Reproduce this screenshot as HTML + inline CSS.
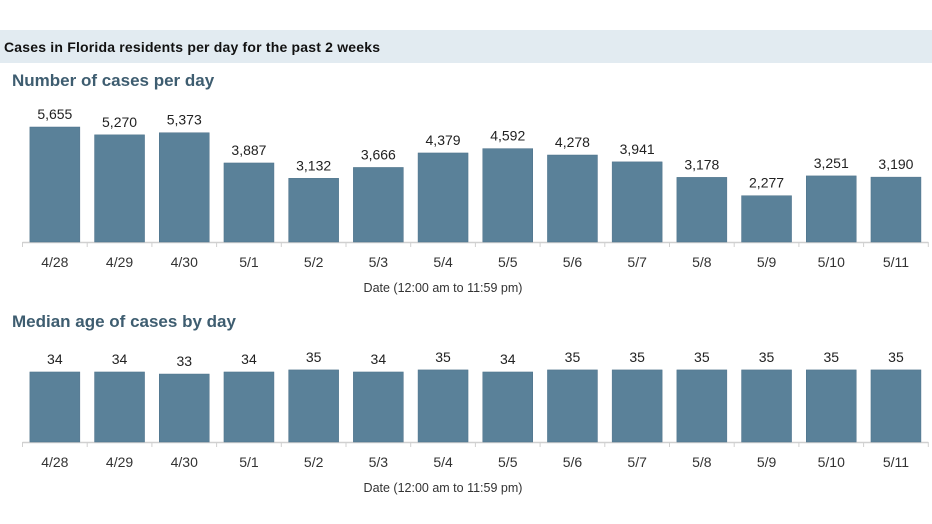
<!DOCTYPE html>
<html><head><meta charset="utf-8"><style>
body{margin:0;width:932px;height:524px;background:#fff;font-family:"Liberation Sans",sans-serif;overflow:hidden}
svg{display:block}
</style></head><body>
<svg id="c" width="932" height="524">
<rect x="0" y="30" width="932" height="33" fill="#e2ebf1"/>
<text x="4" y="52" font-size="14" font-weight="bold" fill="#111" textLength="376">Cases in Florida residents per day for the past 2 weeks</text>
<text x="12" y="86" font-size="17" font-weight="bold" fill="#3e5d70">Number of cases per day</text>
<text x="12" y="327" font-size="17" font-weight="bold" fill="#3e5d70">Median age of cases by day</text>
<g id="g1"></g><g id="g2"></g>
</svg>
<script>
const categories=["4/28","4/29","4/30","5/1","5/2","5/3","5/4","5/5","5/6","5/7","5/8","5/9","5/10","5/11"];
const cases=[5655,5270,5373,3887,3132,3666,4379,4592,4278,3941,3178,2277,3251,3190];
const ages=[34,34,33,34,35,34,35,34,35,35,35,35,35,35];
const NS="http://www.w3.org/2000/svg";
function mk(g,tag,attrs,txt){const e=document.createElementNS(NS,tag);for(const k in attrs)e.setAttribute(k,attrs[k]);if(txt!==undefined)e.textContent=txt;g.appendChild(e);return e;}
const x0=22.5,slot=64.7;
const xScale=i=>x0+slot*i;
function draw(gid,vals,base,scale,fmt,pref){
 const g=document.getElementById(gid);
 mk(g,'line',{x1:x0,x2:x0+slot*vals.length,y1:base+0.5,y2:base+0.5,stroke:'#d0d0d0','stroke-width':1.5,});
 for(let i=0;i<=vals.length;i++){mk(g,'line',{x1:xScale(i),x2:xScale(i),y1:base,y2:base+5,stroke:'#d0d0d0',});}
 vals.forEach((v,i)=>{
  const h=scale(v),cx=xScale(i)+slot/2;
  const r=mk(g,'rect',{x:cx-25,y:base-h,width:50,height:h,fill:'#5a8199',stroke:'#4d7189','stroke-width':0.5});
  
  
  const t=mk(g,'text',{x:cx,y:base-h-8,'text-anchor':'middle','font-size':14,fill:'#222'},fmt(v));
  
  
  const c=mk(g,'text',{x:cx,y:base+25,'text-anchor':'middle','font-size':14,fill:'#333'},categories[i]);
  
  
 });
 const a=mk(g,'text',{x:443,y:base+50,'text-anchor':'middle','font-size':12.5,fill:'#333'},'Date (12:00 am to 11:59 pm)');
 
 
}
draw('g1',cases,242,v=>v/5655*115,v=>v.toLocaleString('en-US'),'cases');
draw('g2',ages,442,v=>v*2.06,v=>String(v),'age');
</script>
</body></html>
